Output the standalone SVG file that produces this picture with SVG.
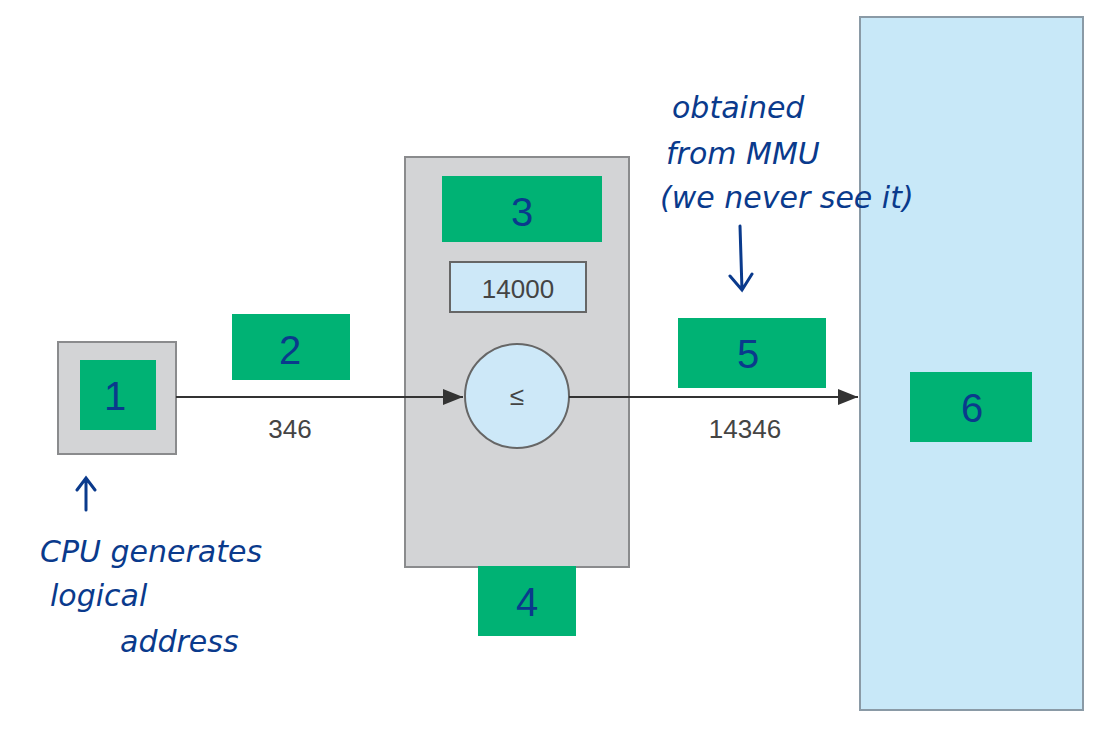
<svg xmlns="http://www.w3.org/2000/svg" width="1112" height="734" viewBox="0 0 1112 734">
<style>
.box{fill:#d3d4d6;stroke:#8a8b8d;stroke-width:2}
.lbl{fill:#00b274}
.num{font-family:"Liberation Sans",sans-serif;font-size:40px;fill:#0a3a8c;text-anchor:middle}
.val{font-family:"Liberation Sans",sans-serif;font-size:26px;fill:#444;text-anchor:middle}
.hand{font-family:"DejaVu Sans",sans-serif;font-style:italic;font-size:30px;fill:#0a3a8c}
.ln{stroke:#333;stroke-width:2;fill:none}
.ha{stroke:#0a3a8c;stroke-width:3;fill:none;stroke-linecap:round}
</style>
<defs><marker id="ar" markerWidth="10" markerHeight="8" refX="10" refY="4" orient="auto"><path d="M0,0L10,4L0,8z" fill="#333"/></marker></defs>
<rect width="1112" height="734" fill="#fff"/>
<g id="memory"><rect x="860" y="17" width="223" height="693" fill="#c8e8f8" stroke="#8a9aa6" stroke-width="2"/>
<rect class="lbl" x="910" y="372" width="122" height="70"/><text class="num" x="972" y="422">6</text></g>
<g id="cpu"><rect class="box" x="58" y="342" width="118" height="112"/>
<rect class="lbl" x="80" y="360" width="76" height="70"/><text class="num" x="115" y="410">1</text></g>
<g id="mmu"><rect class="box" x="405" y="157" width="224" height="410"/>
<rect class="lbl" x="442" y="176" width="160" height="66"/><text class="num" x="522" y="226">3</text>
<rect x="450" y="262" width="136" height="50" fill="#cde8f8" stroke="#666" stroke-width="2"/><text class="val" x="518" y="298">14000</text>
<circle cx="517" cy="396" r="52" fill="#cde8f8" stroke="#666" stroke-width="2"/><text class="val" x="517" y="405" fill="#667">≤</text></g>
<g id="connectors">
<line class="ln" x1="176" y1="397" x2="463" y2="397" marker-end="url(#ar)"/>
<line class="ln" x1="569" y1="397" x2="858" y2="397" marker-end="url(#ar)"/>
<path class="ha" d="M86,510L86,478M77,490L86,478L95,490"/>
<path class="ha" d="M740,226L742,290M730,276L742,290L752,274"/>
</g>
<g id="labels">
<rect class="lbl" x="232" y="314" width="118" height="66"/><text class="num" x="290" y="364">2</text>
<text class="val" x="290" y="438">346</text>
<rect class="lbl" x="678" y="318" width="148" height="70"/><text class="num" x="748" y="368">5</text>
<text class="val" x="745" y="438">14346</text>
<rect class="lbl" x="478" y="566" width="98" height="70"/><text class="num" x="527" y="616">4</text>
</g>
<g id="notes">
<text class="hand" x="40" y="562">CPU generates</text>
<text class="hand" x="50" y="606">logical</text>
<text class="hand" x="120" y="652">address</text>
<text class="hand" x="672" y="118">obtained</text>
<text class="hand" x="666" y="164">from MMU</text>
<text class="hand" x="660" y="208">(we never see it)</text>
</g>
</svg>
